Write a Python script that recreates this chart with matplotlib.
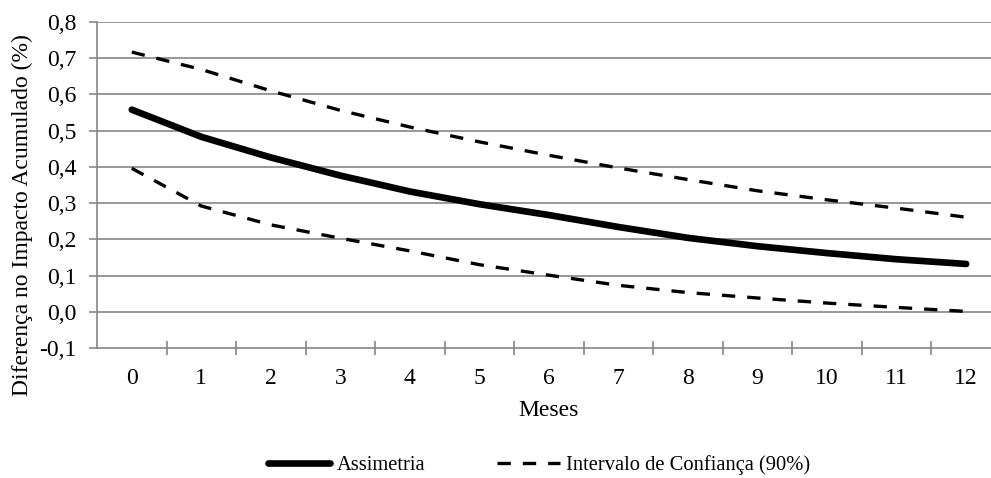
import matplotlib
matplotlib.use("Agg")
import matplotlib.pyplot as plt
from matplotlib.lines import Line2D

# dados
meses = [0, 1, 2, 3, 4, 5, 6, 7, 8, 9, 10, 11, 12]
assimetria = [0.558, 0.483, 0.426, 0.376, 0.332, 0.297, 0.267, 0.234, 0.204, 0.181, 0.162, 0.145, 0.132]
ic_superior = [0.717, 0.669, 0.610, 0.556, 0.510, 0.469, 0.432, 0.397, 0.365, 0.334, 0.309, 0.286, 0.261]
ic_inferior = [0.396, 0.292, 0.240, 0.203, 0.168, 0.130, 0.101, 0.073, 0.053, 0.038, 0.024, 0.012, 0.001]
y_ticks = [-0.1, 0.0, 0.1, 0.2, 0.3, 0.4, 0.5, 0.6, 0.7, 0.8]

cinza = "#868686"
plt.rcParams["font.family"] = ["Liberation Serif", "DejaVu Serif"]
plt.rcParams["font.size"] = 17

fig = plt.figure(figsize=(9.91, 4.78), dpi=100)
ax = fig.add_axes([97 / 991, 130 / 478, 904 / 991, 326 / 478])

for y in y_ticks[1:]:
    ax.axhline(y, color=cinza, lw=1.2, zorder=1)

ax.plot(meses, ic_superior, color="black", lw=2.4, dashes=(4.0, 3.6), zorder=3)
ax.plot(meses, ic_inferior, color="black", lw=2.4, dashes=(4.0, 3.6), zorder=3)
ax.plot(meses, assimetria, color="black", lw=4.8, solid_capstyle="round", zorder=4)

ax.set_xlim(-0.5, 12.5)
ax.set_ylim(-0.1, 0.8)
ax.set_yticks(y_ticks)
ax.set_yticklabels([("%.1f" % v).replace(".", ",") for v in y_ticks])

ax.set_xticks([m + 0.5 for m in meses[:-1]])
ax.set_xticklabels([])
ax.set_xticks(meses, minor=True)
ax.set_xticklabels([str(m) for m in meses], minor=True)
ax.tick_params(axis="x", which="major", direction="inout", length=9.5, width=1.2, color=cinza)
ax.tick_params(axis="x", which="minor", length=0, pad=14.5)
ax.tick_params(axis="y", direction="out", length=5.5, width=1.2, color=cinza, pad=9)

for s in ["top", "right"]:
    ax.spines[s].set_visible(False)
for s in ["left", "bottom"]:
    ax.spines[s].set_color(cinza)
    ax.spines[s].set_linewidth(1.2)

fig.text(22 / 991, 1 - 215 / 478, "Diferença no Impacto Acumulado (%)", rotation=90,
         ha="center", va="center")
fig.text(549 / 991, 1 - 411 / 478, "Meses", ha="center", va="center")

handles = [
    Line2D([], [], color="black", lw=4.8, solid_capstyle="round"),
    Line2D([], [], color="black", lw=2.4, dashes=(4.0, 3.6)),
]
fig.legend(handles, ["Assimetria", "Intervalo de Confiança (90%)"], loc="center",
           bbox_to_anchor=(539 / 991, 1 - 465 / 478), ncol=2, frameon=False,
           fontsize=14.8, handlelength=3.05, handletextpad=0.3, columnspacing=3.5)

fig.savefig("out.png", dpi=100)
